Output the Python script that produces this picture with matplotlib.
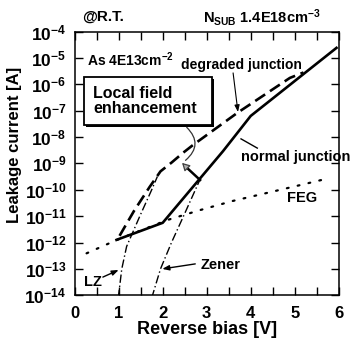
import math
import matplotlib
matplotlib.use("Agg")
import matplotlib.pyplot as plt
from matplotlib.patches import Rectangle
from matplotlib.ticker import FixedLocator, MultipleLocator, FuncFormatter, NullLocator

plt.rcParams['font.family'] = ['Liberation Sans', 'DejaVu Sans']
plt.rcParams['font.weight'] = 'bold'
plt.rcParams['mathtext.fontset'] = 'custom'
plt.rcParams['mathtext.rm'] = 'Liberation Sans:bold'
plt.rcParams['mathtext.bf'] = 'Liberation Sans:bold'
plt.rcParams['mathtext.default'] = 'bf'

# Reverse bias [V] and leakage current [A] for each curve
normal_v = [0.95, 2.0, 3.37, 4.0, 5.95]
normal_i = [1.26e-12, 5.6e-12, 2.9e-9, 6.3e-8, 2.4e-5]

degraded_v = [1.02, 1.35, 1.7, 1.95, 2.2, 2.46, 2.69, 3.69, 4.89, 5.2]
degraded_i = [1.8e-12, 1.6e-11, 1.26e-10, 5.0e-10, 1.07e-9, 2.5e-9, 5.0e-9, 8.1e-8, 1.74e-6, 2.8e-6]

lz_v = [0.99, 1.07, 1.18, 1.48, 1.75, 1.88]
lz_i = [7.9e-15, 1e-13, 7.1e-13, 1e-11, 1e-10, 3.2e-10]

zener_v = [1.75, 1.95, 2.2, 2.5, 2.85]
zener_i = [7.9e-15, 1e-13, 1e-12, 1.26e-11, 2.5e-10]

feg_v = [0.27, 0.96, 2.1, 2.85, 3.6, 4.37, 5.12, 5.8]
feg_i = [3.9e-13, 1.26e-12, 7.1e-12, 1.7e-11, 3.8e-11, 7.6e-11, 1.5e-10, 2.8e-10]

x_ticks = [0, 1, 2, 3, 4, 5, 6]
y_exponents = list(range(-14, -3))

fig = plt.figure(figsize=(3.53, 3.49), dpi=100)
ax = fig.add_axes([0.2116, 0.1539, 0.7479, 0.7558])

ax.plot(feg_v, feg_i, color='black', lw=1.6, linestyle=(0, (0.8, 4.2)),
        dash_capstyle='round', zorder=2)
ax.plot(lz_v, lz_i, color='black', lw=1.0, linestyle=(0, (6, 2, 1, 2)), zorder=3)
ax.plot(zener_v, zener_i, color='black', lw=1.0, linestyle=(0, (6, 2, 1, 2)), zorder=3)
ax.plot(degraded_v, degraded_i, color='black', lw=1.9, linestyle=(0, (4.5, 2.2)), zorder=4)
ax.plot(normal_v, normal_i, color='black', lw=1.9, zorder=5)

ax.set_yscale('log')
ax.set_xlim(0, 6)
ax.set_ylim(1e-14, 1e-4)

ax.xaxis.set_major_locator(FixedLocator(x_ticks))
ax.xaxis.set_minor_locator(MultipleLocator(0.5))
ax.yaxis.set_major_locator(FixedLocator([10.0 ** e for e in y_exponents]))
ax.yaxis.set_minor_locator(NullLocator())
ax.yaxis.set_major_formatter(FuncFormatter(lambda v, p: r'$\mathbf{10^{%d}}$' % round(math.log10(v))))
ax.xaxis.set_major_formatter(FuncFormatter(lambda v, p: '%d' % v))

ax.tick_params(which='both', direction='in', top=True, right=True, width=1.0)
ax.tick_params(which='major', length=6)
ax.tick_params(which='minor', length=6)
ax.tick_params(axis='x', labelsize=12, pad=8)
ax.tick_params(axis='y', labelsize=12.5, pad=6)
for lab in ax.get_xticklabels():
    lab.set_fontweight('bold')
for s in ax.spines.values():
    s.set_linewidth(1.1)

ax.set_xlabel('Reverse bias [V]', fontsize=13, fontweight='bold', labelpad=0)
ax.set_ylabel('Leakage current [A]', fontsize=12, fontweight='bold')
ax.yaxis.set_label_coords(-0.2, 0.57)

# header notes
fig.text(82 / 353, 1 - 17 / 349, '@R.T.', fontsize=11, fontweight='bold', va='center')
fig.text(203 / 353, 1 - 17 / 349, r'N$_{\mathbf{SUB}}$ 1.4E18cm$^{\mathbf{-3}}$',
         fontsize=10.5, fontweight='bold', va='center')

ax.text(0.28, 10 ** -5.08, r'As 4E13cm$^{\mathbf{-2}}$', fontsize=10, fontweight='bold', va='center')

# boxed callout with drop shadow
ax.add_patch(Rectangle((0.043, 0.638), 0.485, 0.182, transform=ax.transAxes,
                       facecolor='black', edgecolor='black', lw=0, zorder=6))
ax.add_patch(Rectangle((0.035, 0.646), 0.485, 0.182, transform=ax.transAxes,
                       facecolor='white', edgecolor='black', lw=1.3, zorder=7))
ax.text(0.07, 0.737, 'Local field\nenhancement', transform=ax.transAxes, fontsize=11.5,
        fontweight='bold', va='center', ha='left', linespacing=1.05, zorder=8)

# connector from box to the enhancement arrow
ax.annotate('', xy=(2.47, 10 ** -8.95), xytext=(2.5, 10 ** -7.56),
            arrowprops=dict(arrowstyle='-', color='#333333', lw=0.9,
                            connectionstyle='arc3,rad=-0.6'), zorder=6)
# enhancement arrow from normal toward degraded junction
ax.plot([2.85, 2.52], [10 ** -9.63, 10 ** -9.12], color='black', lw=1.8, zorder=6)
ax.annotate('', xy=(2.44, 10 ** -8.98), xytext=(2.56, 10 ** -9.18),
            arrowprops=dict(arrowstyle='-|>,head_length=0.45,head_width=0.25',
                            facecolor='#b0b0b0', edgecolor='#404040', lw=0.9,
                            shrinkA=0, shrinkB=0), zorder=7)

ax.text(3.78, 10 ** -5.27, 'degraded junction', fontsize=10, fontweight='bold',
        ha='center', va='center')
ax.annotate('', xy=(3.71, 10 ** -7.05), xytext=(3.6, 10 ** -5.57),
            arrowprops=dict(arrowstyle='-|>,head_length=0.4,head_width=0.15',
                            color='black', lw=0.8, shrinkA=0, shrinkB=0))

ax.text(3.79, 10 ** -8.76, 'normal junction', fontsize=10.5, fontweight='bold',
        ha='left', va='center', clip_on=False)
ax.plot([4.15, 3.78], [10 ** -8.42, 10 ** -8.07], color='black', lw=1.0)

ax.text(5.17, 10 ** -10.31, 'FEG', fontsize=10.5, fontweight='bold', ha='center', va='center')

ax.text(2.87, 10 ** -12.85, 'Zener', fontsize=10.5, fontweight='bold', ha='left', va='center')
ax.annotate('', xy=(1.99, 10 ** -13.0), xytext=(2.74, 10 ** -12.81),
            arrowprops=dict(arrowstyle='-|>,head_length=0.4,head_width=0.15',
                            color='black', lw=1.0, shrinkA=0, shrinkB=0))

ax.text(0.42, 10 ** -13.5, 'LZ', fontsize=10.5, fontweight='bold', ha='center', va='center')
ax.annotate('', xy=(1.0, 10 ** -13.04), xytext=(0.64, 10 ** -13.31),
            arrowprops=dict(arrowstyle='-|>,head_length=0.4,head_width=0.15',
                            color='black', lw=1.0, shrinkA=0, shrinkB=0))

fig.savefig('out.png', dpi=100)
